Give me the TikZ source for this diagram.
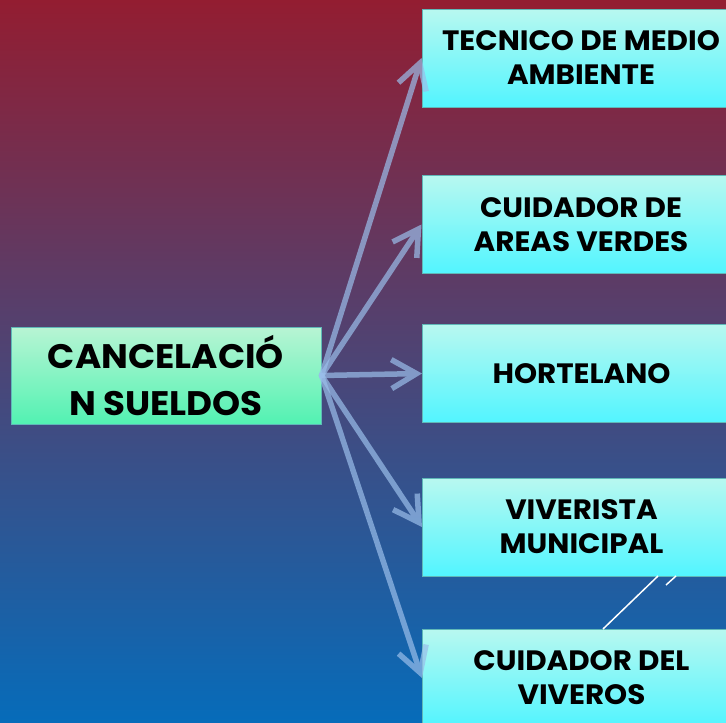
\documentclass[tikz,border=0pt]{standalone}
\usepackage{fontspec}
\setmainfont{Poppins}[FakeStretch=1.05]
\usetikzlibrary{arrows.meta}
\definecolor{bgtop}{HTML}{931D31}
\definecolor{bgbot}{HTML}{066CBA}
\definecolor{boxtop}{HTML}{B8F8F0}
\definecolor{boxbot}{HTML}{52F5FF}
\definecolor{srctop}{HTML}{B8F4D4}
\definecolor{srcbot}{HTML}{52F2B2}
\definecolor{edgec}{HTML}{5FB8B8}
\definecolor{arrowc}{HTML}{9ABEEA}
\begin{document}
\begin{tikzpicture}[x=1pt,y=-1pt,
  rolebox/.style={draw=edgec, line width=1pt, top color=boxtop, bottom color=boxbot,
    minimum width=318pt, minimum height=98pt, inner sep=0pt, align=center,
    font=\bfseries\fontsize{28}{34}\selectfont},
  srcbox/.style={draw=edgec, line width=1pt, top color=srctop, bottom color=srcbot,
    minimum width=310pt, minimum height=97pt, inner sep=0pt, align=center,
    font=\bfseries\fontsize{34}{46.5}\selectfont},
  link/.style={line width=5.5pt, color=arrowc, line cap=round,
    -{Straight Barb[length=25pt,width=29pt]}},
  mark line/.style={white, line width=1.5pt}
]
\useasboundingbox (0,0) rectangle (726,723);
\shade[top color=bgtop, bottom color=bgbot] (0,0) rectangle (726,723);

\node[srcbox] (src) at (166,375.5) {CANCELACIÓ\\N SUELDOS};
\node[rolebox] (r1) at (581,58) {TECNICO DE MEDIO\\AMBIENTE};
\node[rolebox] (r2) at (581,224.5) {CUIDADOR DE\\AREAS VERDES};
\node[rolebox] (r3) at (581.5,373.5) {HORTELANO};
\node[rolebox] (r4) at (581.5,527) {VIVERISTA\\MUNICIPAL};
\node[rolebox] (r5) at (581.5,678) {CUIDADOR DEL\\VIVEROS};

\coordinate (w1a) at (603,629);
\coordinate (w1b) at (658,576);
\coordinate (w2a) at (666,585);
\coordinate (w2b) at (676,576);
\draw[mark line] (w1a) -- (w1b);
\draw[mark line] (w2a) -- (w2b);

\foreach \t in {r1,r2,r3,r4,r5}{
  \begin{scope}[transparency group, opacity=0.7]
    \draw[link] (src.east) -- (\t.west);
  \end{scope}
}
\end{tikzpicture}
\end{document}
